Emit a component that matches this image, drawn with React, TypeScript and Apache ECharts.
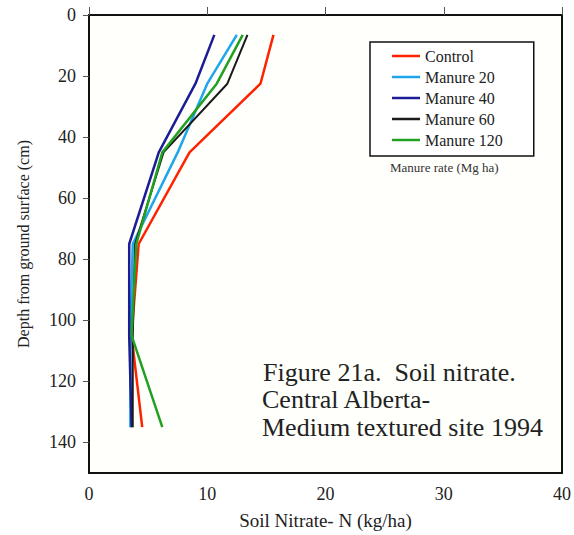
import React, { useEffect, useRef } from "react";
import * as echarts from "echarts";

const depths = [6.5, 22.5, 45, 75, 105, 135];
const seriesNames = ["Control", "Manure 20", "Manure 40", "Manure 60", "Manure 120"];
const control = [15.6, 14.5, 8.5, 4.2, 3.6, 4.5];
const manure20 = [12.5, 10.0, 7.5, 3.7, 3.5, 3.5];
const manure40 = [10.6, 9.0, 5.9, 3.4, 3.4, 3.6];
const manure60 = [13.4, 11.7, 6.3, 3.9, 3.7, 3.7];
const manure120 = [13.0, 10.8, 6.2, 4.0, 3.6, 6.2];
const colors = ["#ff2200", "#1ea6ec", "#1c1c96", "#1a1a1a", "#22a022"];
const xTicks = [0, 10, 20, 30, 40];
const yTicks = [0, 20, 40, 60, 80, 100, 120, 140];

const FONT = "Liberation Serif";

export default function App() {
  const ref = useRef<HTMLDivElement>(null);
  useEffect(() => {
    if (!ref.current) return;
    const chart = echarts.init(ref.current, undefined, { renderer: "svg" });
    const all = [control, manure20, manure40, manure60, manure120];
    chart.setOption({
      animation: false,
      backgroundColor: "#ffffff",
      textStyle: { fontFamily: FONT },
      grid: {
        left: 89,
        right: 8,
        top: 15,
        bottom: 52,
        show: true,
        borderColor: "#111",
        borderWidth: 2,
        backgroundColor: "#fffffc",
      },
      legend: {
        orient: "vertical",
        left: 370,
        top: 42,
        data: seriesNames,
        icon: "rect",
        itemWidth: 28,
        itemHeight: 2.5,
        itemGap: 5,
        padding: [6, 31, 8, 22],
        borderColor: "#111",
        borderWidth: 1.5,
        backgroundColor: "#ffffff",
        textStyle: { fontFamily: FONT, fontSize: 16, color: "#222", lineHeight: 16 },
      },
      xAxis: {
        type: "value",
        min: xTicks[0],
        max: xTicks[xTicks.length - 1],
        interval: 10,
        name: "Soil Nitrate- N (kg/ha)",
        nameLocation: "middle",
        nameGap: 38,
        nameTextStyle: { fontFamily: FONT, fontSize: 19, color: "#222" },
        axisLine: { show: true, lineStyle: { color: "#111", width: 2 } },
        axisTick: { show: true, inside: true, length: 8, lineStyle: { color: "#555" } },
        axisLabel: { fontFamily: FONT, fontSize: 18, color: "#222", margin: 12 },
        splitLine: { show: false },
      },
      yAxis: {
        type: "value",
        inverse: true,
        min: 0,
        max: 150,
        interval: 20,
        name: "Depth from ground surface (cm)",
        nameLocation: "middle",
        nameGap: 58,
        nameTextStyle: { fontFamily: FONT, fontSize: 16, color: "#222" },
        axisLine: { show: true, lineStyle: { color: "#111", width: 2 } },
        axisTick: { show: true, inside: false, length: 6, lineStyle: { color: "#555" } },
        axisLabel: {
          fontFamily: FONT,
          fontSize: 18,
          color: "#222",
          margin: 13,
          showMaxLabel: false,
          formatter: (v: number) => (yTicks.includes(v) ? String(v) : ""),
        },
        splitLine: { show: false },
      },
      series: all.map((vals, i) => ({
        name: seriesNames[i],
        type: "line",
        showSymbol: false,
        symbol: "none",
        data: vals.map((v, j) => [v, depths[j]]),
        lineStyle: { color: colors[i], width: i === 3 ? 2 : 2.5 },
        itemStyle: { color: colors[i] },
      })),
      graphic: [
        {
          type: "text",
          left: 390,
          top: 161,
          style: { text: "Manure rate (Mg ha)", font: `13px ${FONT}`, fill: "#333" },
        },
        {
          type: "text",
          left: 263,
          top: 359,
          style: {
            text: "Figure 21a.  Soil nitrate.",
            font: `26px ${FONT}`,
            fill: "#222",
          },
        },
        {
          type: "text",
          left: 262,
          top: 386,
          style: { text: "Central Alberta-", font: `26px ${FONT}`, fill: "#222" },
        },
        {
          type: "text",
          left: 262,
          top: 414,
          style: { text: "Medium textured site 1994", font: `26px ${FONT}`, fill: "#222" },
        },
      ],
    });
    return () => chart.dispose();
  }, []);
  return <div ref={ref} style={{ width: 574, height: 535, position: "absolute", left: 0, top: 0 }} />;
}
